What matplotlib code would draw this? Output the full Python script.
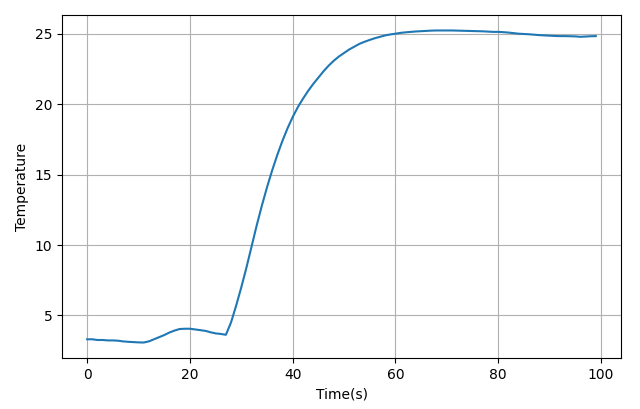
import numpy as np
import matplotlib
matplotlib.use('Agg')
import matplotlib.pyplot as plt

time_s = list(range(100))
temperature = [
    3.30, 3.30, 3.25, 3.25, 3.22, 3.22, 3.20, 3.15, 3.12, 3.10,
    3.08, 3.07, 3.15, 3.30, 3.45, 3.60, 3.78, 3.92, 4.03, 4.05,
    4.05, 4.00, 3.95, 3.90, 3.80, 3.72, 3.68, 3.62, 4.50, 5.70,
    7.00, 8.40, 9.90, 11.40, 12.80, 14.10, 15.30, 16.40, 17.40, 18.30,
    19.10, 19.80, 20.40, 20.95, 21.45, 21.90, 22.35, 22.75, 23.10, 23.40,
    23.65, 23.90, 24.10, 24.30, 24.45, 24.58, 24.70, 24.80, 24.90, 24.97,
    25.02, 25.08, 25.12, 25.15, 25.18, 25.20, 25.22, 25.24, 25.25, 25.25,
    25.25, 25.25, 25.24, 25.23, 25.22, 25.21, 25.20, 25.19, 25.17, 25.15,
    25.15, 25.13, 25.10, 25.06, 25.02, 25.00, 24.98, 24.95, 24.92, 24.90,
    24.88, 24.86, 24.85, 24.85, 24.84, 24.83, 24.80, 24.82, 24.84, 24.85,
]

fig = plt.figure(figsize=(6.4, 4.09), dpi=100)
ax = fig.add_axes([62/640, 51/409, 559/640, 343/409])
ax.plot(time_s, temperature, color='#1f77b4', linewidth=1.5)
ax.set_xlim(-4.9, 103.9)
ax.set_ylim(1.97, 26.35)
ax.set_xticks([0, 20, 40, 60, 80, 100])
ax.set_yticks([5, 10, 15, 20, 25])
ax.grid(True)
ax.set_xlabel('Time(s)')
ax.set_ylabel('Temperature')
fig.savefig('out.png', dpi=100)
